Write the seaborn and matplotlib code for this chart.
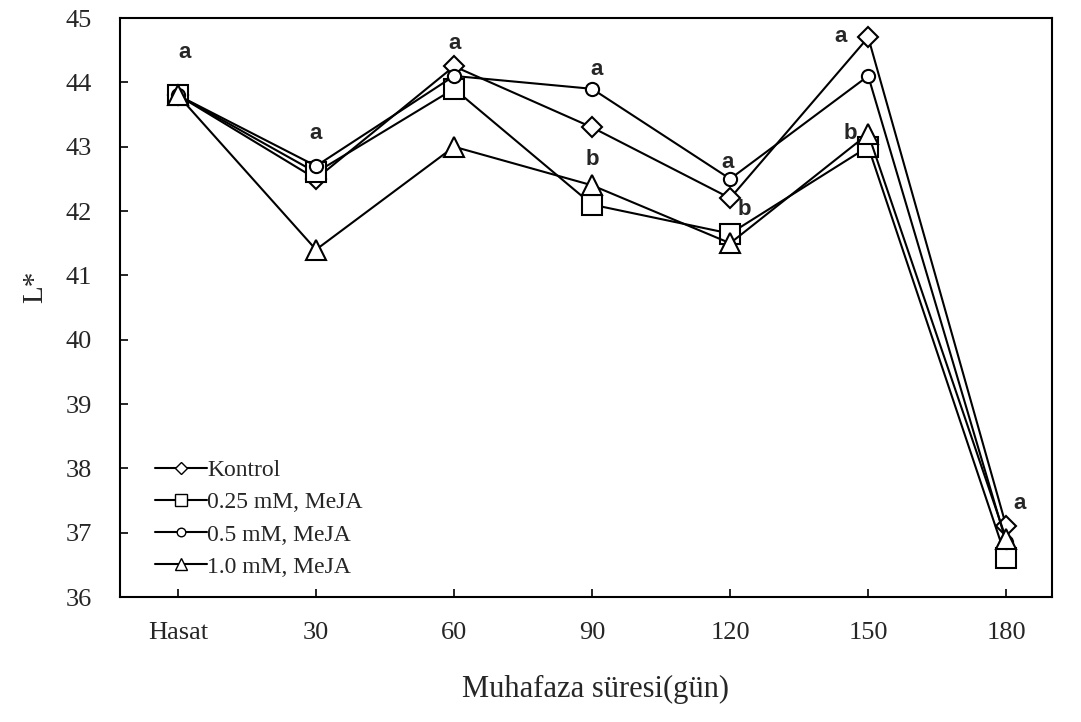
import matplotlib
matplotlib.use("Agg")
import matplotlib.pyplot as plt
import seaborn as sns
import pandas as pd
from matplotlib.lines import Line2D

sns.set_theme(style="white")
plt.rcParams['font.family'] = ['Liberation Serif', 'DejaVu Serif']

categories = ["Hasat", "30", "60", "90", "120", "150", "180"]
kontrol = [43.8, 42.5, 44.25, 43.3, 42.2, 44.7, 37.1]
mm025 = [43.8, 42.6, 43.9, 42.1, 41.65, 43.0, 36.6]
mm05 = [43.8, 42.7, 44.1, 43.9, 42.5, 44.1, 36.85]
mm10 = [43.8, 41.4, 43.0, 42.4, 41.5, 43.2, 36.9]
series_names = ["Kontrol", "0.25 mM, MeJA", "0.5 mM, MeJA", "1.0 mM, MeJA"]
series_values = [kontrol, mm025, mm05, mm10]
series_markers = ["D", "s", "o", "^"]
series_sizes = [10, 14, 9.5, 14]

# letters (category index, value, text)
letter_pos = [0, 1, 2, 3, 3, 4, 4, 5, 5, 6]
letter_y = [44.47, 43.2, 44.6, 44.2, 42.8, 42.75, 42.02, 44.72, 43.2, 37.45]
letter_dx = [0.05, 0.0, 0.0, 0.03, 0.0, -0.02, 0.1, -0.2, -0.13, 0.1]
letter_text = ["a", "a", "a", "a", "b", "a", "b", "a", "b", "a"]

fig = plt.figure(figsize=(10.81, 7.22), dpi=100)
ax = fig.add_axes([0.111, 0.173, 0.862, 0.802])

x = list(range(len(categories)))
for name, vals, mk, ms in zip(series_names, series_values, series_markers, series_sizes):
    df = pd.DataFrame({"x": x, "y": vals})
    sns.lineplot(data=df, x="x", y="y", ax=ax, color="black", lw=1.5,
                 marker=mk, markersize=ms, markerfacecolor="white",
                 markeredgecolor="black", markeredgewidth=1.5, sort=False)

for i, yv, dx, t in zip(letter_pos, letter_y, letter_dx, letter_text):
    ax.text(i + dx, yv, t, ha="center", va="center", fontsize=16,
            fontweight="bold", family=["Liberation Sans", "DejaVu Sans"])

ax.set_xlim(-0.42, 6.33)
ax.set_ylim(36, 45)
ax.set_xticks(x)
ax.set_xticklabels(categories)
ax.set_yticks(range(36, 46))
ax.tick_params(axis="both", direction="in", length=6, width=1.2, color="black",
               labelsize=19, pad=20, bottom=True, left=True)
ax.tick_params(axis="x", pad=18)
for s in ax.spines.values():
    s.set_color("black")
    s.set_linewidth(1.5)
ax.set_xlabel("Muhafaza süresi(gün)", fontsize=22, labelpad=22)
ax.set_ylabel("L*", fontsize=21)
ax.yaxis.set_label_coords(-0.077, 0.535)
ax.xaxis.set_label_coords(0.51, -0.135)

handles = [Line2D([0], [0], color="black", lw=1.5, marker=mk, markersize=ms * 0.65,
                  markerfacecolor="white", markeredgecolor="black")
           for mk, ms in zip(series_markers, series_sizes)]
ax.legend(handles, series_names, loc="lower left", bbox_to_anchor=(0.02, 0.005),
          frameon=False, fontsize=17, handlelength=2.2, handletextpad=0.0,
          labelspacing=0.45, borderaxespad=0.3)

fig.savefig("out.png", dpi=100)
